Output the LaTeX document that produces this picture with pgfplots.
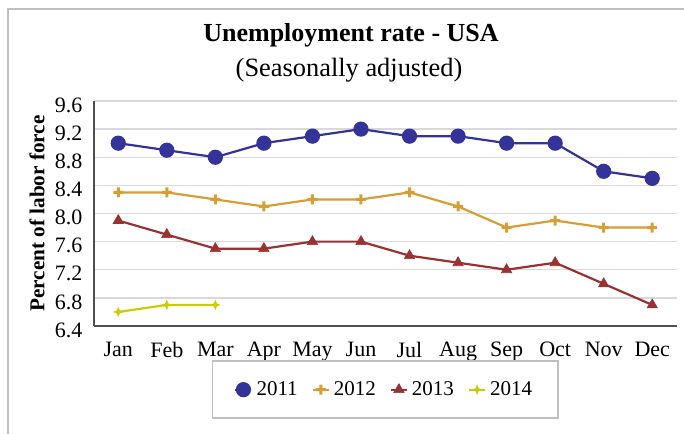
\documentclass[border=0pt]{standalone}
\usepackage{fontspec}
\setmainfont{Liberation Serif}
\usepackage{pgfplots}
\pgfplotsset{compat=1.18}
\definecolor{cA}{RGB}{51,51,153}
\definecolor{cB}{RGB}{214,158,52}
\definecolor{cC}{RGB}{153,51,51}
\definecolor{cD}{RGB}{204,204,0}
\definecolor{frame}{RGB}{191,191,191}
\definecolor{gridc}{RGB}{217,217,217}
\definecolor{axisc}{RGB}{80,80,80}
\pgfdeclareplotmark{star4}{%
  \pgfpathmoveto{\pgfpoint{0pt}{\pgfplotmarksize}}%
  \pgfpathlineto{\pgfpoint{0.28\pgfplotmarksize}{0.28\pgfplotmarksize}}%
  \pgfpathlineto{\pgfpoint{\pgfplotmarksize}{0pt}}%
  \pgfpathlineto{\pgfpoint{0.28\pgfplotmarksize}{-0.28\pgfplotmarksize}}%
  \pgfpathlineto{\pgfpoint{0pt}{-\pgfplotmarksize}}%
  \pgfpathlineto{\pgfpoint{-0.28\pgfplotmarksize}{-0.28\pgfplotmarksize}}%
  \pgfpathlineto{\pgfpoint{-\pgfplotmarksize}{0pt}}%
  \pgfpathlineto{\pgfpoint{-0.28\pgfplotmarksize}{0.28\pgfplotmarksize}}%
  \pgfpathclose
  \pgfusepathqfillstroke}
\pgfdeclareplotmark{plusthick}{%
  \pgfpathrectangle{\pgfpoint{-\pgfplotmarksize}{-0.3\pgfplotmarksize}}{\pgfpoint{2\pgfplotmarksize}{0.6\pgfplotmarksize}}%
  \pgfpathrectangle{\pgfpoint{-0.3\pgfplotmarksize}{-\pgfplotmarksize}}{\pgfpoint{0.6\pgfplotmarksize}{2\pgfplotmarksize}}%
  \pgfsetfillcolor{cB}%
  \pgfusepathqfill}
\begin{document}
\begin{tikzpicture}[x=1pt,y=1pt]
\useasboundingbox (0,0) rectangle (342,216.5);
\clip (0,0) rectangle (342,216.5);
\draw[line width=1pt, frame] (4,-10) -- (4,212) -- (360,212);
\node[font=\bfseries\fontsize{13}{15}\selectfont, anchor=base] at (175.5,195.6) {Unemployment rate - USA};
\node[font=\fontsize{13.2}{15}\selectfont, anchor=base] at (174.5,178.2) {(Seasonally adjusted)};
\begin{axis}[
  at={(47pt,53.5pt)}, anchor=south west,
  scale only axis, width=291.25pt, height=112.5pt,
  xmin=-0.5, xmax=11.5, ymin=6.4, ymax=9.6,
  xtick={0,1,2,3,4,5,6,7,8,9,10,11},
  xticklabels={Jan,Feb,Mar,Apr,May,Jun,Jul,Aug,Sep,Oct,Nov,Dec},
  ytick={6.4,6.8,7.2,7.6,8.0,8.4,8.8,9.2,9.6},
  axis x line*=bottom, axis y line*=left,
  axis line style={draw=axisc, line width=0.6pt, -},
  major tick length=0pt,
  ymajorgrids, grid style={draw=gridc, line width=0.7pt},
  /pgf/number format/assume math mode=true,
  tick label style={font=\fontsize{11}{13}\selectfont},
  yticklabel style={/pgf/number format/fixed, /pgf/number format/fixed zerofill, /pgf/number format/precision=1},
  yticklabel style={xshift=-2.3pt, yshift=-2pt},
  xticklabel style={yshift=-4.5pt},
  ylabel={Percent of labor force},
  ylabel style={font=\bfseries\fontsize{10.6}{12}\selectfont, at={(axis description cs:-0.098,0.5)}, anchor=center},
  clip=false,
  legend columns=4,
  legend style={at={(0.5,-0.283)}, anchor=center, draw=frame, line width=0.8pt,
    inner xsep=11pt, inner ysep=8pt, font=\fontsize{10.5}{12}\selectfont,
    /tikz/every even column/.append style={column sep=5pt}},
  legend image code/.code={\draw[mark repeat=2,mark phase=2] plot coordinates {(0cm,0cm) (0.14cm,0cm) (0.28cm,0cm)};},
]
\addplot[color=cA, line width=1.1pt, mark=*, mark size=3.25pt] coordinates {
(0,9.0) (1,8.9) (2,8.8) (3,9.0) (4,9.1) (5,9.2) (6,9.1) (7,9.1) (8,9.0) (9,9.0) (10,8.6) (11,8.5)};
\addlegendentry{2011}
\addplot[color=cB, line width=1.1pt, mark=plusthick, mark size=2.5pt] coordinates {
(0,8.3) (1,8.3) (2,8.2) (3,8.1) (4,8.2) (5,8.2) (6,8.3) (7,8.1) (8,7.8) (9,7.9) (10,7.8) (11,7.8)};
\addlegendentry{2012}
\addplot[color=cC, line width=1.1pt, mark=triangle*, mark size=3pt, mark options={line width=0.3pt}] coordinates {
(0,7.9) (1,7.7) (2,7.5) (3,7.5) (4,7.6) (5,7.6) (6,7.4) (7,7.3) (8,7.2) (9,7.3) (10,7.0) (11,6.7)};
\addlegendentry{2013}
\addplot[color=cD, line width=1.1pt, mark=star4, mark size=2.2pt, mark options={line width=0.3pt}] coordinates {
(0,6.6) (1,6.7) (2,6.7)};
\addlegendentry{2014}
\end{axis}
\end{tikzpicture}
\end{document}
